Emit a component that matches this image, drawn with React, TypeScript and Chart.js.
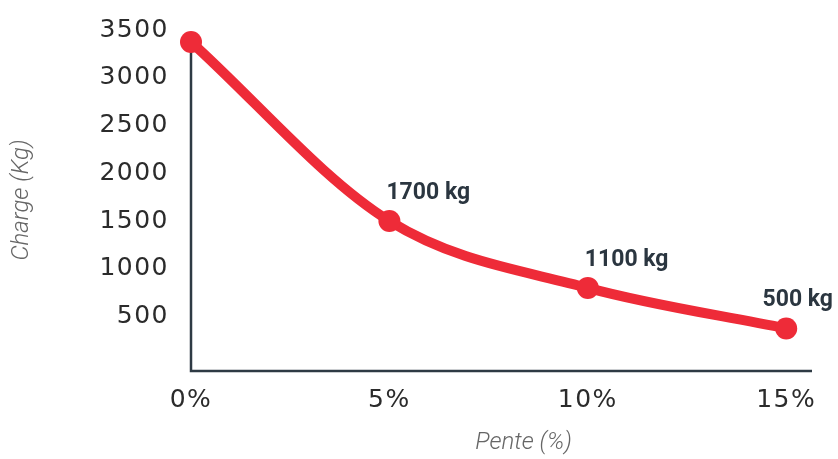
import React, { useEffect, useRef } from "react";
import { Chart, registerables } from "chart.js";

Chart.register(...registerables);

const slopes = [0, 5, 10, 15];
const loads = [3375, 1500, 800, 375];
const pointLabels = ["", "1700 kg", "1100 kg", "500 kg"];
const yTicks = [500, 1000, 1500, 2000, 2500, 3000, 3500];
const xTicks = [0, 5, 10, 15];
const xTitle = "Pente (%)";
const yTitle = "Charge (Kg)";

const RED = "#ee2b38";
const AXIS = "#2e3a44";

const overlay = {
  id: "overlay",
  beforeDraw(chart: any) {
    (chart.ctx as any).letterSpacing = "1.5px";
  },
  beforeDatasetsDraw(chart: any) {
    const { ctx, chartArea } = chart;
    const meta = chart.getDatasetMeta(0);
    const first = meta.data[0];
    ctx.save();
    ctx.strokeStyle = AXIS;
    ctx.lineWidth = 2.5;
    ctx.beginPath();
    ctx.moveTo(chartArea.left, first.y);
    ctx.lineTo(chartArea.left, chartArea.bottom);
    ctx.lineTo(chartArea.right, chartArea.bottom);
    ctx.stroke();
    ctx.restore();
  },
  afterDatasetsDraw(chart: any) {
    const { ctx, chartArea, width } = chart;
    const meta = chart.getDatasetMeta(0);
    ctx.save();
    (ctx as any).letterSpacing = "0px";
    ctx.font = "bold 23px Roboto";
    ctx.fillStyle = "#2b3640";
    ctx.textBaseline = "alphabetic";
    ctx.textAlign = "left";
    meta.data.forEach((pt: any, i: number) => {
      const txt = pointLabels[i];
      if (!txt) return;
      const w = ctx.measureText(txt).width;
      let x = pt.x - 3;
      if (x + w > width - 5) x = width - 5 - w;
      ctx.fillText(txt, x, pt.y - 22);
    });
    // axis titles
    ctx.fillStyle = "#666";
    ctx.font = "italic 300 24px Roboto";
    ctx.textAlign = "center";
    ctx.textBaseline = "middle";
    ctx.fillText(xTitle, (chartArea.left + chartArea.right) / 2 + 22, 443);
    ctx.translate(22, 200);
    ctx.rotate(-Math.PI / 2);
    ctx.fillText(yTitle, 0, 0);
    ctx.restore();
  },
};

export default function App() {
  const ref = useRef<HTMLCanvasElement | null>(null);
  useEffect(() => {
    if (!ref.current) return;
    const chart = new Chart(ref.current, {
      type: "line",
      data: {
        datasets: [
          {
            data: slopes.map((s, i) => ({ x: s, y: loads[i] })),
            borderColor: RED,
            backgroundColor: RED,
            borderWidth: 10,
            pointRadius: 11,
            pointHoverRadius: 11,
            pointBackgroundColor: RED,
            pointBorderWidth: 0,
            cubicInterpolationMode: "monotone",
            clip: false,
            fill: false,
          } as any,
        ],
      },
      options: {
        animation: false,
        responsive: true,
        maintainAspectRatio: false,
        layout: { padding: { top: 30, right: 26, bottom: 0, left: 0 } },
        plugins: { legend: { display: false }, tooltip: { enabled: false } },
        scales: {
          x: {
            type: "linear",
            min: 0,
            max: 15.65,
            afterBuildTicks: (s: any) => {
              s.ticks = xTicks.map((v) => ({ value: v }));
            },
            afterFit: (s: any) => {
              s.height = 88;
            },
            grid: { display: false, drawTicks: false },
            border: { display: false },
            ticks: {
              padding: 14,
              color: "#2b2b2b",
              font: { family: "DejaVu Sans", size: 25 },
              callback: (v: any) => v + "%",
              maxRotation: 0,
            },
          },
          y: {
            type: "linear",
            min: -70,
            max: 3500,
            afterBuildTicks: (s: any) => {
              s.ticks = yTicks.map((v) => ({ value: v }));
            },
            afterFit: (s: any) => {
              s.width = 191;
              s.paddingTop = 0;
              s.paddingBottom = 0;
            },
            grid: { display: false, drawTicks: false },
            border: { display: false },
            ticks: {
              padding: 22,
              color: "#2b2b2b",
              font: { family: "DejaVu Sans", size: 25 },
              callback: (v: any) => String(v),
            },
          },
        },
      },
      plugins: [overlay],
    });
    return () => chart.destroy();
  }, []);
  return (
    <div style={{ position: "absolute", left: 0, top: 0, width: 838, height: 459, background: "#fff" }}>
      <canvas ref={ref} />
    </div>
  );
}
